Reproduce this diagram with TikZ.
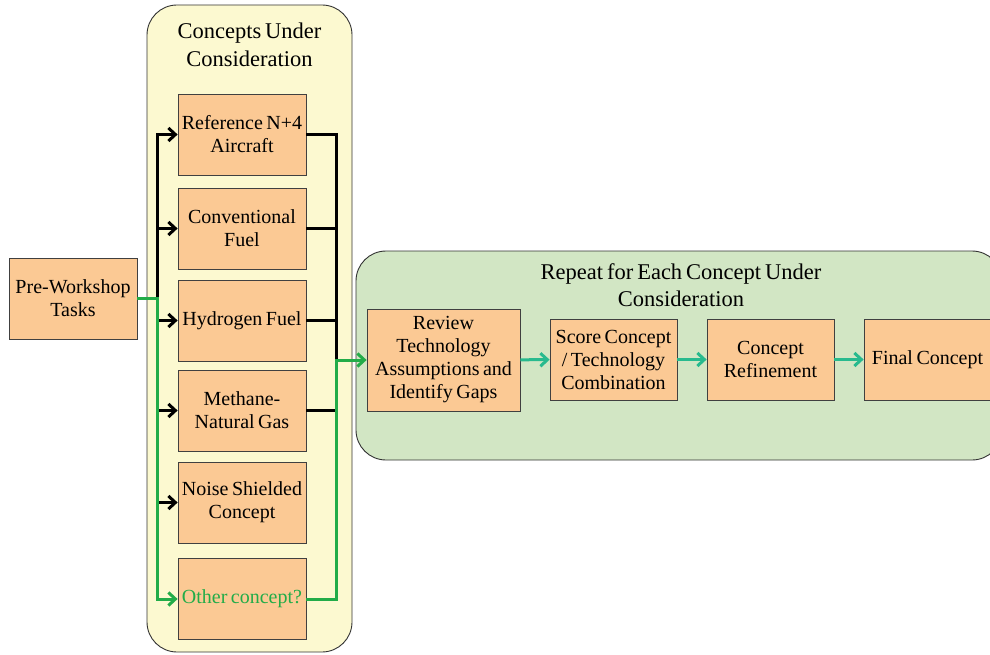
\documentclass[tikz,border=0pt]{standalone}
\usepackage{fontspec}
\setmainfont{Liberation Serif}[WordSpace=0.7]
\usepackage{xcolor}
\usepackage{tikz}
\usetikzlibrary{arrows.meta,positioning,calc}
\definecolor{peach}{RGB}{251,201,148}
\definecolor{paleyellow}{RGB}{252,249,208}
\definecolor{palegreen}{RGB}{210,230,196}
\definecolor{flowgreen}{RGB}{34,172,72}
\definecolor{flowteal}{RGB}{40,186,142}

\begin{document}
\begin{tikzpicture}[
    x=1pt, y=-1pt,
    cbox/.style={rectangle, draw=black!75, fill=peach, line width=0.8pt, minimum width=128pt, minimum height=81pt, text width=124pt, inner xsep=2pt, align=flush center, font=\fontsize{20}{23}\selectfont},
    group/.style={draw=black!80, line width=0.9pt, rounded corners=30pt},
    grouptitle/.style={align=center, font=\fontsize{22.5}{27.5}\selectfont},
    blackline/.style={line width=3pt, black},
    greenline/.style={line width=3pt, flowgreen},
    tealarrow/.style={line width=3pt, flowteal, -{Straight Barb[length=7pt,width=13pt]}},
    tip/.style={-{Straight Barb[length=7pt,width=13pt]}}
]
    \useasboundingbox (0,0) rectangle (990,655);
    \clip (0,0) rectangle (990,655);

    % Containers
    \draw[group, fill=paleyellow] (147,5) rectangle (352,652);
    \node[grouptitle] (ytitle) at (249.5,45) {Concepts Under\\Consideration};
    \draw[group, fill=palegreen] (356,251) rectangle (1002,460);
    \node[grouptitle] (gtitle) at (681,285) {Repeat for Each Concept Under\\Consideration};

    % Boxes
    \node[cbox] (pre) at (73,298.5) {Pre-Workshop\\Tasks};
    \node[cbox] (ref) at (242,134.5) {Reference N+4\\Aircraft};
    \node[cbox] (conv) at (242,228.5) {Conventional\\Fuel};
    \node[cbox] (hyd) at (242,320.5) {Hydrogen Fuel};
    \node[cbox] (meth) at (242,410.5) {Methane-\\Natural Gas};
    \node[cbox] (noise) at (242,502.5) {Noise Shielded\\Concept};
    \node[cbox, text=flowgreen] (other) at (242,599) {Other concept?};

    \node[cbox, minimum width=153pt, minimum height=102pt, text width=149pt] (review) at (443.5,360) {Review\\Technology\\Assumptions and\\Identify Gaps};
    \node[cbox, minimum width=127pt, text width=123pt] (score) at (613.5,359.5) {Score Concept\\/ Technology\\Combination};
    \node[cbox, minimum width=127pt, text width=123pt] (refine) at (770.5,359.5) {Concept\\Refinement};
    \node[cbox, minimum width=127pt, text width=123pt] (final) at (927.5,359.5) {Final Concept};

    % Split and merge points
    \coordinate (split) at (157,298.5);
    \coordinate (merge) at (336,360);

    % Black connectors
    \foreach \b in {ref,conv,hyd,meth,noise}
        \draw[blackline, tip] (split) |- (\b.west);
    \foreach \b in {ref,conv,hyd,meth}
        \draw[blackline] (\b.east) -| (merge);

    % Green path
    \draw[greenline, tip] (pre.east) -- (split) |- (other.west);
    \draw[greenline, tip] (other.east) -| (merge) -- (review.west);

    % Teal flow
    \draw[tealarrow] (review) -- (score);
    \draw[tealarrow] (score) -- (refine);
    \draw[tealarrow] (refine) -- (final);
\end{tikzpicture}
\end{document}
